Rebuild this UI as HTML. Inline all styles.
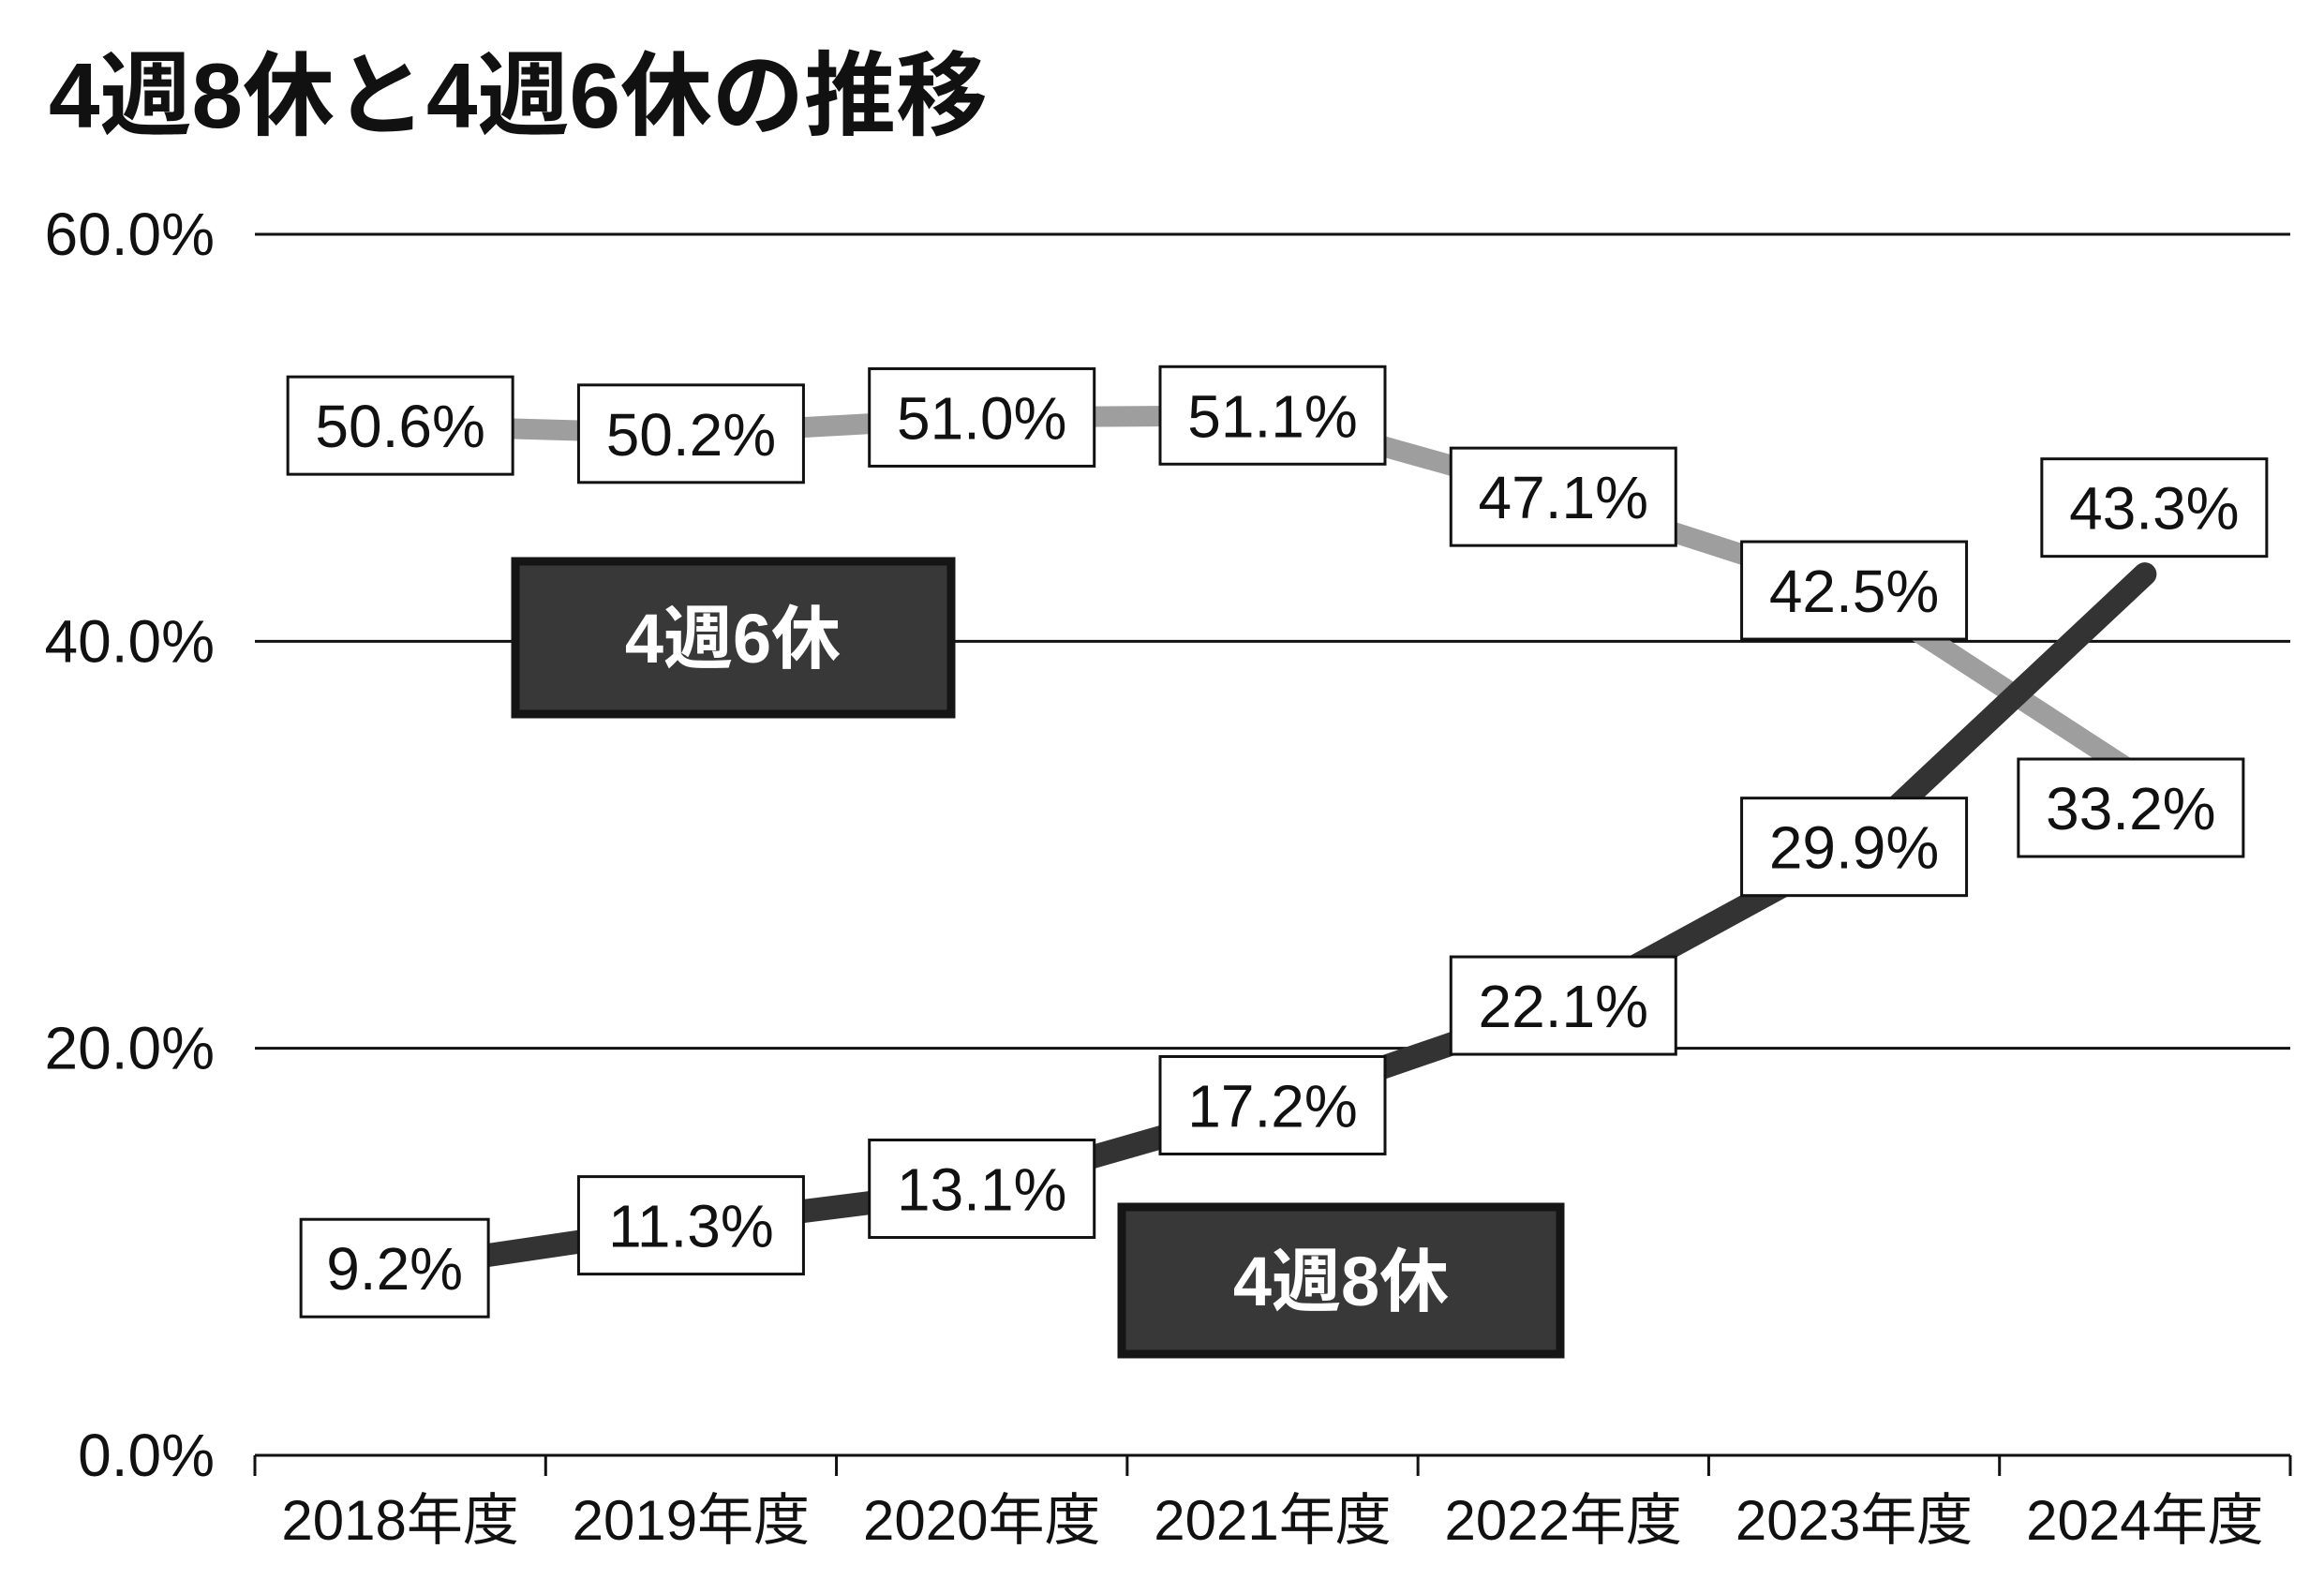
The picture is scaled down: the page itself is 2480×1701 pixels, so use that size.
<!DOCTYPE html>
<html><head><meta charset="utf-8"><style>
html,body{margin:0;padding:0;background:#fff;}
svg{display:block;font-family:"Liberation Sans","Noto Sans CJK JP",sans-serif;}
</style></head><body>
<svg id="chart" width="2480" height="1701" viewBox="0 0 2480 1701" xmlns="http://www.w3.org/2000/svg">
<text x="52" y="136" font-size="98" font-weight="bold" fill="#111">4週8休と4週6休の推移</text>
<g id="grid"></g><g id="lines"></g><g id="labels"></g>
<g>
<rect x="550" y="599" width="465" height="163" fill="#383838" stroke="#151515" stroke-width="9"/>
<text x="782" y="707" font-size="74" font-weight="bold" fill="#fff" text-anchor="middle">4週6休</text></g>
<g>
<rect x="1197" y="1288" width="468" height="157" fill="#383838" stroke="#151515" stroke-width="9"/>
<text x="1431" y="1393" font-size="74" font-weight="bold" fill="#fff" text-anchor="middle">4週8休</text></g>
</svg>
<script>
const categories=["2018年度","2019年度","2020年度","2021年度","2022年度","2023年度","2024年度"];
const seriesSix=[50.6,50.2,51.0,51.1,47.1,42.5,33.2];
const seriesEight=[9.2,11.3,13.1,17.2,22.1,29.9,43.3];
const yTicks=[0,20,40,60];
const yTickLabels=["0.0%","20.0%","40.0%","60.0%"];
const NS="http://www.w3.org/2000/svg";
const L=272,R=2444,T=250,B=1553,yMax=60;
const bw=(R-L)/categories.length;
const x=i=>L+bw*(i+0.5);
const y=v=>B-(v/yMax)*(B-T);
function mk(tag,attrs,parent){const e=document.createElementNS(NS,tag);for(const k in attrs)e.setAttribute(k,attrs[k]);parent.appendChild(e);return e;}
const grid=document.getElementById('grid'),lines=document.getElementById('lines'),labels=document.getElementById('labels');
yTicks.forEach((t,i)=>{
  if(t>0){const g=mk('line',{x1:L,x2:R,y1:y(t),y2:y(t),stroke:'#111','stroke-width':3},grid);
  
  }
  const tx=mk('text',{x:229,y:y(t)+22,'font-size':64,fill:'#111','text-anchor':'end'},grid);
  tx.textContent=yTickLabels[i];
  
  
});
const ax=mk('line',{x1:L,x2:R,y1:B,y2:B,stroke:'#111','stroke-width':3},grid);


for(let i=0;i<=categories.length;i++){
  const tk=mk('line',{x1:L+bw*i,x2:L+bw*i,y1:B,y2:B+22,stroke:'#111','stroke-width':3},grid);
  
  
}
categories.forEach((c,i)=>{
  const t=mk('text',{x:x(i),y:1643,'font-size':60,fill:'#111','text-anchor':'middle'},grid);
  t.textContent=c;
  
  
});
function drawLine(data,color,w,name){
  const p=mk('polyline',{points:data.map((v,i)=>x(i)+','+y(v)).join(' '),fill:'none',stroke:color,'stroke-width':w,'stroke-linecap':'round','stroke-linejoin':'round'},lines);
  
  
}
drawLine(seriesSix,'#9e9e9e',22,'line-4shu6kyu');
drawLine(seriesEight,'#333333',25,'line-4shu8kyu');
function drawLabels(data,name,lastDx,lastDy){
  data.forEach((v,i)=>{
    let cx=x(i),cy=y(v),w=240;
    if(i===data.length-1){cx+=lastDx;cy+=lastDy;}
    if(v<10){w=200;cx-=6;}
    const g=mk('g',{},labels);
    
    
    mk('rect',{x:cx-w/2,y:cy-52,width:w,height:104,fill:'#fff',stroke:'#111','stroke-width':3},g);
    const t=mk('text',{x:cx,y:cy+23,'font-size':64,fill:'#111','text-anchor':'middle'},g);
    t.textContent=v.toFixed(1)+'%';
  });
}
drawLabels(seriesSix,'value-label-4shu6kyu',-15,30);
drawLabels(seriesEight,'value-label-4shu8kyu',10,-71);
</script>
</body></html>
